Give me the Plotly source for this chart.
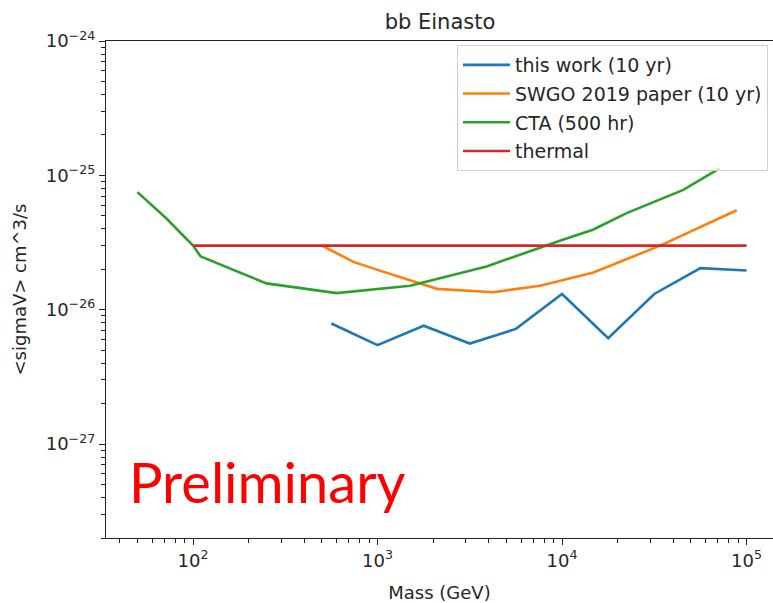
import numpy as np
import plotly.graph_objects as go

# --- data -------------------------------------------------------------
mass_this = [562, 1000, 1778, 3162, 5623, 10000, 17783, 31623, 56234, 100000]
sv_this = [7.9e-27, 5.45e-27, 7.6e-27, 5.6e-27, 7.2e-27, 1.31e-26, 6.15e-27, 1.31e-26, 2.04e-26, 1.96e-26]

mass_swgo = [500, 740, 1000, 2100, 4250, 7600, 14800, 34000, 88500]
sv_swgo = [3.0e-26, 2.27e-26, 1.98e-26, 1.43e-26, 1.35e-26, 1.51e-26, 1.89e-26, 3.0e-26, 5.5e-26]

mass_cta = [50, 72, 100, 110, 250, 600, 1500, 3900, 10000, 14700, 22400, 45400, 71800]
sv_cta = [7.5e-26, 4.75e-26, 3.0e-26, 2.49e-26, 1.57e-26, 1.33e-26, 1.51e-26, 2.1e-26, 3.3e-26, 3.94e-26, 5.24e-26, 7.8e-26, 1.13e-25]

mass_thermal = [100, 100000]
sv_thermal = [3e-26, 3e-26]

names = ["this work (10 yr)", "SWGO 2019 paper (10 yr)", "CTA (500 hr)", "thermal"]
colors = ["#1f77b4", "#ff7f0e", "#2ca02c", "#d62728"]

x_major = [1e2, 1e3, 1e4, 1e5]
x_major_text = ["10<sup>2</sup>", "10<sup>3</sup>", "10<sup>4</sup>", "10<sup>5</sup>"]
y_major = [1e-27, 1e-26, 1e-25, 1e-24]
y_major_text = ["10<sup>−27</sup>", "10<sup>−26</sup>", "10<sup>−25</sup>", "10<sup>−24</sup>"]

# --- figure -----------------------------------------------------------
FONT = "DejaVu Sans"
TXT = "#262626"

fig = go.Figure()
series = [(mass_this, sv_this), (mass_swgo, sv_swgo), (mass_cta, sv_cta), (mass_thermal, sv_thermal)]
for i, ((mx, sv), name, col) in enumerate(zip(series, names, colors)):
    fig.add_trace(go.Scatter(
        x=mx, y=sv, mode="lines", name=name, legendgroup=f"g{i}",
        line=dict(color=col, width=2.6),
    ))

x_minor = [m * 10.0 ** e for e in range(1, 6) for m in range(2, 10)]
y_minor = [m * 10.0 ** e for e in range(-28, -24) for m in range(2, 10)]

x_range = [np.log10(33.75), np.log10(33.75) + 667 / 184.5]
y_range = [np.log10(2e-28), -24]

fig.update_layout(
    width=773, height=603,
    margin=dict(l=106, r=0, t=41, b=65),
    paper_bgcolor="white", plot_bgcolor="white",
    font=dict(family=FONT, size=18, color=TXT),
    title=dict(text="bb Einasto", x=440 / 773, xref="container", xanchor="center",
               y=1 - 22 / 603, yref="container", yanchor="middle",
               font=dict(size=21, color=TXT, family=FONT)),
    showlegend=True,
    legend=dict(x=(457 - 106) / 667, y=1 - (45 - 41) / 497, xanchor="left", yanchor="top",
                bgcolor="rgba(255,255,255,0.8)", bordercolor="#d0d0d0", borderwidth=1,
                font=dict(size=19, family=FONT, color=TXT), tracegroupgap=1,
                itemwidth=47),
)

fig.update_xaxes(
    type="log", range=x_range, showgrid=False, zeroline=False,
    showline=True, linecolor="#222", linewidth=1.4, mirror=True,
    tickmode="array", tickvals=x_major, ticktext=x_major_text,
    ticks="outside", ticklen=6, tickwidth=1.3, tickcolor="#222",
    minor=dict(tickmode="array", tickvals=x_minor, ticks="outside", ticklen=3.5,
               tickwidth=1, tickcolor="#222", showgrid=False),
    title=dict(text="Mass (GeV)", font=dict(size=18, family=FONT, color=TXT), standoff=16),
)
fig.update_yaxes(
    type="log", range=y_range, showgrid=False, zeroline=False,
    showline=True, linecolor="#222", linewidth=1.4, mirror=False,
    tickmode="array", tickvals=y_major, ticktext=y_major_text,
    ticks="outside", ticklen=6, tickwidth=1.3, tickcolor="#222",
    minor=dict(tickmode="array", tickvals=y_minor, ticks="outside", ticklen=3.5,
               tickwidth=1, tickcolor="#222", showgrid=False),
    title=dict(text="&lt;sigmaV&gt; cm^3/s", font=dict(size=18, family=FONT, color=TXT), standoff=14),
)

fig.add_annotation(
    text="Preliminary", xref="paper", yref="paper",
    x=(127 - 106) / 667, y=1 - (481 - 41) / 497, xanchor="left", yanchor="middle",
    showarrow=False, font=dict(family="Lato", size=56, color="#ff0000"),
)

fig.write_html("out.html")
